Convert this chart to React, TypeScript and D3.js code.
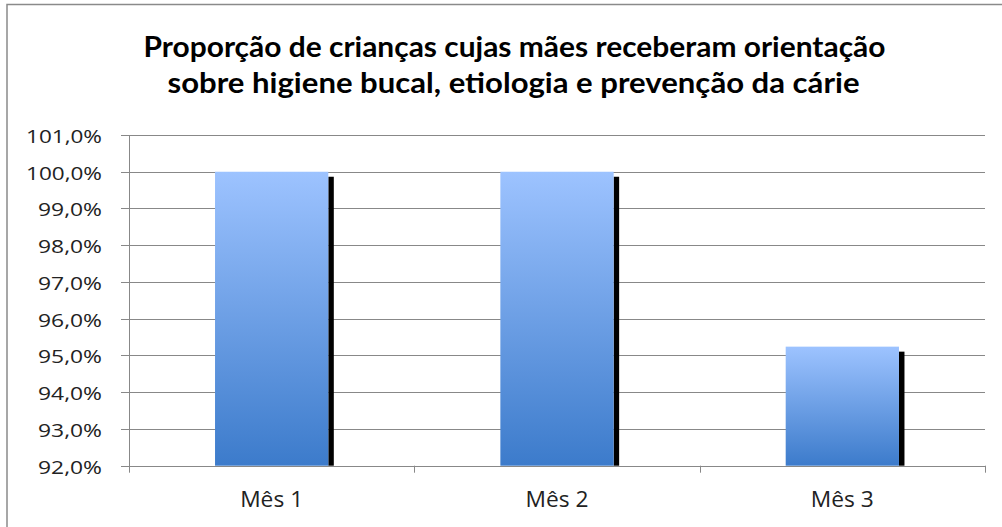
import React from "react";
import * as d3 from "d3";

const categories = ["Mês 1", "Mês 2", "Mês 3"];
const values = [100, 100, 95.24];
const yTicks = [92, 93, 94, 95, 96, 97, 98, 99, 100, 101];
const titleLines = [
  "Proporção de crianças cujas mães receberam orientação",
  "sobre higiene bucal, etiologia e prevenção da cárie",
];

export default function App() {
  const W = 1002, H = 527;
  const left = 129, right = 985, top = 135, bottom = 465.7;
  const x = d3.scaleBand<string>().domain(categories).range([left, right]).paddingInner(0).paddingOuter(0);
  const y = d3.scaleLinear().domain([92, 101]).range([bottom, top]);
  const barW = x.bandwidth() * 0.397;
  const fmt = (v: number) => v.toFixed(1).replace(".", ",") + "%";
  const boundaries = [...categories.map((c) => x(c)!), right];
  const titleFont = "Lato, 'Open Sans', 'Liberation Sans', sans-serif";
  const font = "'Open Sans', Lato, 'Liberation Sans', sans-serif";

  return (
    <svg width={W} height={H} style={{ position: "absolute", left: 0, top: 0, background: "#fff" }}>
      <defs>
        <linearGradient id="barGrad" x1="0" y1="0" x2="0" y2="1">
          <stop offset="0%" stopColor="#9DC3FF" />
          <stop offset="100%" stopColor="#3C7BCB" />
        </linearGradient>
      </defs>
      <rect x={7} y={4.5} width={1000} height={530} fill="#fff" stroke="#8a8a8a" strokeWidth={1.5} />
      {titleLines.map((t, i) => (
        <text
          key={i}
          x={(i === 0 ? 141 + 888 : 166 + 861) / 2}
          y={57 + i * 36}
          textAnchor="middle"
          fontFamily={titleFont}
          fontWeight="bold"
          fontSize={28}
          fill="#000"
          textLength={i === 0 ? 742 : 692}
          lengthAdjust="spacingAndGlyphs"
        >
          {t}
        </text>
      ))}
      {yTicks.map((t) => {
        const label = fmt(t);
        return (
          <g key={t}>
            <line x1={121} x2={right} y1={Math.round(y(t)) + 0.5} y2={Math.round(y(t)) + 0.5} stroke="#888" strokeWidth={1} />
            <text
              x={102}
              y={y(t) + 8}
              textAnchor="end"
              fontFamily={font}
              fontSize={19}
              fill="#222"
              textLength={label.length === 6 ? 76 : 64}
              lengthAdjust="spacingAndGlyphs"
            >
              {label}
            </text>
          </g>
        );
      })}
      <line x1={left + 0.5} x2={left + 0.5} y1={top} y2={bottom + 7} stroke="#888" strokeWidth={1} />
      {boundaries.slice(1).map((b, i) => (
        <line key={i} x1={Math.round(b) + 0.5} x2={Math.round(b) + 0.5} y1={bottom} y2={bottom + 7} stroke="#888" strokeWidth={1} />
      ))}
      {categories.map((c, i) => {
        const cx = x(c)! + x.bandwidth() / 2;
        const bx = cx - barW / 2;
        const by = y(values[i]);
        return (
          <g key={c}>
            <rect x={bx + barW} y={by + 5} width={5.5} height={bottom - by - 5} fill="#000" />
            <rect x={bx} y={by} width={barW} height={bottom - by} fill="url(#barGrad)" />
            <text x={cx} y={506.5} textAnchor="middle" fontFamily={font} fontSize={21} fill="#222" textLength={63} lengthAdjust="spacingAndGlyphs">
              {c}
            </text>
          </g>
        );
      })}
    </svg>
  );
}
